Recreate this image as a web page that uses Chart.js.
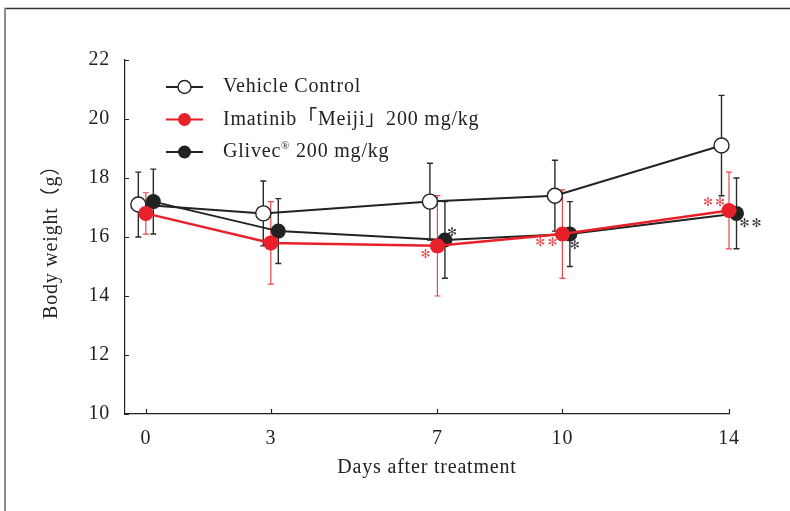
<!DOCTYPE html>
<html>
<head>
<meta charset="utf-8">
<script src="https://cdn.jsdelivr.net/npm/chart.js@4.4.0/dist/chart.umd.min.js"></script>
<style>
  html, body { margin: 0; padding: 0; background: #fff; }
  #wrap { width: 790px; height: 511px; }
</style>
</head>
<body>
<div id="wrap"><canvas id="myChart" width="790" height="511"></canvas></div>
<script>
// data (mean and SD, grams)
const days = [0, 3, 7, 10, 14];
const tickDays = [0, 3, 7, 10, 14];
const vehicle = [17.1, 16.8, 17.2, 17.4, 19.1];
const vehicleSD = [1.1, 1.1, 1.3, 1.2, 1.7];
const imatinib = [16.8, 15.8, 15.7, 16.1, 16.9];
const imatinibSD = [0.7, 1.4, 1.7, 1.5, 1.3];
const glivec = [17.2, 16.2, 15.9, 16.1, 16.8];
const glivecSD = [1.1, 1.1, 1.3, 1.1, 1.2];
const imatinibSig = ['', '', '*', '**', '**'];
const glivecSig = ['', '', '*', '*', '**'];
const seriesNames = ['Vehicle Control', 'Imatinib「Meiji」200 mg/kg', 'Glivec® 200 mg/kg'];

const serif = "'Liberation Serif', 'Noto Sans CJK JP', serif";
const RED = '#e8202a';
const RED_BAR = '#e9474e';
const DARK = '#222222';
const SPACING = '0.8px';

// horizontal dodge per series, px
const dodge = [-7.5, 0, 7.5];
const means = [vehicle, imatinib, glivec];
const sds = [vehicleSD, imatinibSD, glivecSD];
const barColors = ['#2a2a2a', RED_BAR, '#2a2a2a'];

//Plugins:
const dodgePlugin = {
    id: 'dodge',
    beforeDatasetDraw(chart, args){
        chart.ctx.save()
        chart.ctx.translate(dodge[args.index], 0)
    },
    afterDatasetDraw(chart, args){
        chart.ctx.restore()
    }
}

const errorBars = {
    id: 'errorBars',
    beforeDatasetsDraw(chart){
        const ctx = chart.ctx
        const ys = chart.scales.y
        for (let i = 0; i < means.length; i++){
            const meta = chart.getDatasetMeta(i)
            ctx.save()
            ctx.strokeStyle = barColors[i]
            ctx.lineWidth = i == 1 ? 1.2 : 1.4
            for (let j = 0; j < days.length; j++){
                const x = meta.data[j].x + dodge[i]
                const top = ys.getPixelForValue(means[i][j] + sds[i][j])
                const bot = ys.getPixelForValue(means[i][j] - sds[i][j])
                ctx.beginPath()
                ctx.moveTo(x, top); ctx.lineTo(x, bot)
                ctx.moveTo(x - 3, top); ctx.lineTo(x + 3, top)
                ctx.moveTo(x - 3, bot); ctx.lineTo(x + 3, bot)
                ctx.stroke()
            }
            ctx.restore()
        }
    }
}

// where the significance marks sit relative to their point, px
const sigOffsets = {
    1: [null, null, [-11, 9], [-15, 9], [-14, -8]],
    2: [null, null, [8, -7], [6, 12], [15, 10]]
}
const sigMarks = {
    id: 'sigMarks',
    afterDatasetsDraw(chart){
        const ctx = chart.ctx
        const sets = {1: imatinibSig, 2: glivecSig}
        ctx.save()
        ctx.font = "12px 'DejaVu Sans'"
        ctx.textAlign = 'center'
        ctx.textBaseline = 'middle'
        ctx.letterSpacing = '2px'
        for (const k in sets){
            const meta = chart.getDatasetMeta(k)
            ctx.fillStyle = k == 1 ? RED_BAR : '#3a3a3a'
            for (let j = 0; j < days.length; j++){
                if (!sets[k][j]) continue
                const off = sigOffsets[k][j]
                const txt = sets[k][j].replace(/\*/g, '✻')
                ctx.fillText(txt, meta.data[j].x + dodge[k] + off[0], meta.data[j].y + off[1])
            }
        }
        ctx.restore()
    }
}

const inwardTicks = {
    id: 'inwardTicks',
    afterDraw(chart){
        const ctx = chart.ctx
        const xs = chart.scales.x, ys = chart.scales.y
        const a = chart.chartArea
        ctx.save()
        ctx.strokeStyle = DARK
        ctx.lineWidth = 1.2
        ctx.beginPath()
        ys.ticks.forEach(t => {
            const y = Math.round(ys.getPixelForValue(t.value)) + 0.5
            ctx.moveTo(a.left, y); ctx.lineTo(a.left + 4, y)
        })
        xs.ticks.forEach(t => {
            const x = Math.round(xs.getPixelForValue(t.value)) + 0.5
            ctx.moveTo(x, a.bottom); ctx.lineTo(x, a.bottom - 5)
        })
        ctx.stroke()
        ctx.restore()
    }
}

const frame = {
    id: 'frame',
    beforeDraw(chart){
        const ctx = chart.ctx
        ctx.letterSpacing = SPACING
        ctx.save()
        ctx.strokeStyle = '#333'
        ctx.lineWidth = 1.6
        ctx.beginPath(); ctx.moveTo(4, 8.5); ctx.lineTo(790, 8.5); ctx.stroke()
        ctx.strokeStyle = '#8c8c8c'
        ctx.lineWidth = 2
        ctx.beginPath(); ctx.moveTo(5, 8); ctx.lineTo(5, 511); ctx.stroke()
        ctx.restore()
    }
}

const legendBox = {
    id: 'legendBox',
    afterDraw(chart){
        const ctx = chart.ctx
        const rows = [87, 119.5, 152]
        ctx.save()
        ctx.letterSpacing = SPACING
        rows.forEach((y, i) => {
            const ds = chart.data.datasets[i]
            ctx.strokeStyle = ds.borderColor
            ctx.lineWidth = 2
            ctx.beginPath(); ctx.moveTo(166, y); ctx.lineTo(203, y); ctx.stroke()
            ctx.beginPath(); ctx.arc(184.5, y, 6.5, 0, Math.PI * 2)
            ctx.fillStyle = ds.pointBackgroundColor
            ctx.fill()
            if (i == 0){ ctx.lineWidth = 1.4; ctx.strokeStyle = DARK; ctx.stroke() }
            ctx.fillStyle = DARK
            ctx.font = '20px ' + serif
            ctx.textBaseline = 'middle'
            ctx.textAlign = 'left'
            const name = seriesNames[i]
            if (name.indexOf('®') > -1){
                const parts = name.split('®')
                ctx.fillText(parts[0], 223, y)
                let x = 223 + ctx.measureText(parts[0]).width
                ctx.font = '11px ' + serif
                ctx.fillText('®', x, y - 6)
                x += ctx.measureText('®').width
                ctx.font = '20px ' + serif
                ctx.fillText(parts[1], x, y)
            } else {
                ctx.fillText(name, 223, y)
            }
        })
        ctx.restore()
    }
}

const ctx = document.getElementById('myChart').getContext('2d')
const myChart = new Chart(ctx, {
    type: 'line',
    data: {
        datasets: [{
            label: seriesNames[0],
            data: days.map((d, i) => ({x: d, y: vehicle[i]})),
            borderColor: DARK,
            borderWidth: 2,
            pointBackgroundColor: '#ffffff',
            pointBorderColor: DARK,
            pointBorderWidth: 1.4,
            pointRadius: 7.5,
            order: 2
        }, {
            label: seriesNames[1],
            data: days.map((d, i) => ({x: d, y: imatinib[i]})),
            borderColor: RED,
            borderWidth: 2.5,
            pointBackgroundColor: RED,
            pointBorderColor: RED,
            pointBorderWidth: 0,
            pointRadius: 7.5,
            order: 0
        }, {
            label: seriesNames[2],
            data: days.map((d, i) => ({x: d, y: glivec[i]})),
            borderColor: DARK,
            borderWidth: 2,
            pointBackgroundColor: DARK,
            pointBorderColor: DARK,
            pointBorderWidth: 0,
            pointRadius: 7.5,
            order: 1
        }]
    },
    options: {
        responsive: false,
        animation: false,
        clip: false,
        layout: {
            padding: {left: 0, right: 61, top: 60, bottom: 0}
        },
        plugins: {
            legend: {display: false},
            tooltip: {enabled: false}
        },
        scales: {
            x: {
                type: 'linear',
                min: -0.5,
                max: 14,
                afterBuildTicks: s => { s.ticks = tickDays.map(v => ({value: v})) },
                afterFit: s => { s.height = 97 },
                grid: {display: false, drawTicks: false},
                border: {display: true, color: DARK, width: 1.2},
                ticks: {color: DARK, font: {family: serif, size: 20}, padding: 13, autoSkip: false, maxRotation: 0},
                title: {display: true, text: 'Days after treatment', color: DARK, font: {family: serif, size: 20}, padding: {top: 0, bottom: 31}}
            },
            y: {
                min: 10,
                max: 22,
                afterFit: s => { s.width = 125 },
                grid: {display: false, drawTicks: false},
                border: {display: true, color: DARK, width: 1.2},
                ticks: {stepSize: 2, color: DARK, font: {family: serif, size: 20}, padding: 15},
                title: {display: true, text: 'Body weight（g）', color: DARK, font: {family: serif, size: 20}, padding: {top: 40, bottom: 0}}
            }
        }
    },
    plugins: [frame, errorBars, dodgePlugin, sigMarks, inwardTicks, legendBox]
});
</script>
</body>
</html>
